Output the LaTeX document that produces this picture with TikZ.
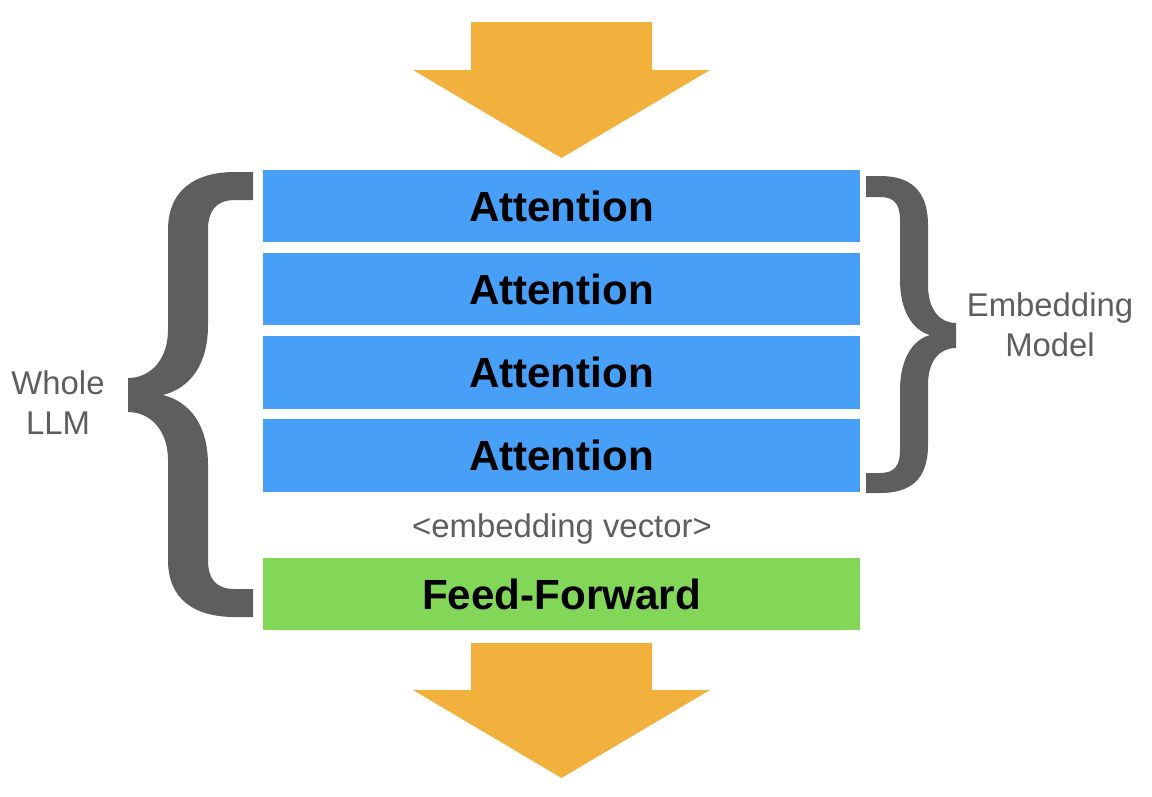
\documentclass[tikz,border=0pt]{standalone}
\usepackage{fontspec}
\setmainfont{Liberation Sans}
\usetikzlibrary{positioning}
\definecolor{attblue}{HTML}{479FF8}
\definecolor{ffgreen}{HTML}{82D758}
\definecolor{flow}{HTML}{F2B13D}
\definecolor{bracegray}{HTML}{5E5E5E}

\begin{document}
\begin{tikzpicture}[x=0.02cm,y=-0.02cm,node distance=0.2cm,
    layer/.style={rectangle,minimum width=11.94cm,minimum height=1.45cm,inner sep=0pt,
        font=\fontsize{24}{28}\selectfont\bfseries},
    attn/.style={layer,fill=attblue},
    ffn/.style={layer,fill=ffgreen},
    note/.style={text=bracegray,font=\fontsize{18.7}{22.8}\selectfont,align=center},
    flowarrow/.style={fill=flow},
    bracefill/.style={fill=bracegray}]

    \useasboundingbox (0,0) rectangle (1152,796);

    % layer stack
    \node[attn] (A1) at (561.5,206) {Attention};
    \node[attn, below=of A1] (A2) {Attention};
    \node[attn, below=of A2] (A3) {Attention};
    \node[attn, below=of A3] (A4) {Attention};
    \node[ffn, below=1.31cm of A4] (FF) {Feed-Forward};

    \node[note, anchor=base] (vec) at (562,537) {<embedding vector>};

    % in and out arrows
    \fill[flowarrow] (471,22) -- (652,22) -- (652,70) -- (710,70) -- (561.5,158)
        -- (413,70) -- (471,70) -- cycle;
    \fill[flowarrow] (471,643) -- (652,643) -- (652,690) -- (710,690) -- (561.5,778)
        -- (413,690) -- (471,690) -- cycle;

    % left brace
    \fill[bracefill] (253,172) -- (235,172) .. controls (195,172) and (168,190) .. (168,230)
        -- (168,330) .. controls (168,360) and (150,378) .. (128,378)
        -- (128,412) .. controls (150,412) and (168,430) .. (168,460)
        -- (168,560) .. controls (168,600) and (195,617) .. (235,617)
        -- (253,617) -- (253,589) -- (235,589) .. controls (215,589) and (208,578) .. (208,560)
        -- (208,465) .. controls (208,425) and (190,402) .. (163,395)
        .. controls (190,388) and (208,365) .. (208,325)
        -- (208,230) .. controls (208,212) and (215,200) .. (235,200) -- (253,200) -- cycle;
    \node[note] (whole) at (58,403) {Whole\\LLM};

    % right brace
    \fill[bracefill] (866,176) -- (880,176) .. controls (910,176) and (928,190) .. (928,225)
        -- (928,285) .. controls (928,310) and (940,323) .. (956,323)
        -- (956,348) .. controls (940,348) and (928,360) .. (928,385)
        -- (928,445) .. controls (928,480) and (910,493) .. (880,493)
        -- (866,493) -- (866,473) -- (880,473) .. controls (895,473) and (900,465) .. (900,450)
        -- (900,390) .. controls (900,360) and (912,340) .. (930,335)
        .. controls (912,330) and (900,310) .. (900,280)
        -- (900,220) .. controls (900,205) and (895,197) .. (880,197) -- (866,197) -- cycle;
    \node[note] (emb) at (1050,325) {Embedding\\Model};
\end{tikzpicture}
\end{document}
